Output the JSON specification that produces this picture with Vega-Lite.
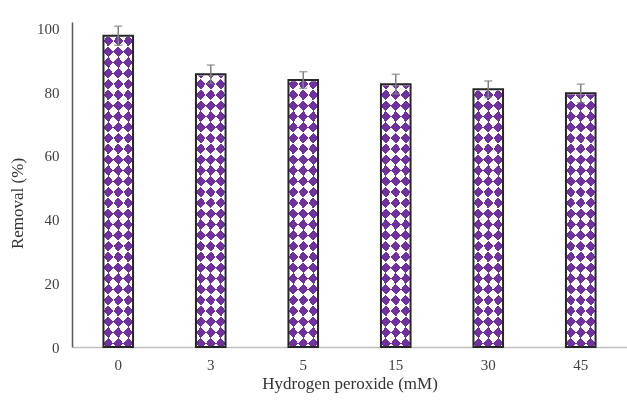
{
  "$schema": "https://vega.github.io/schema/vega-lite/v6.json",
  "width": 555,
  "height": 325,
  "autosize": {"type": "none"},
  "padding": {"left": 72, "top": 22, "right": 0, "bottom": 56},
  "background": "white",
  "config": {
    "view": {"stroke": null},
    "axis": {
      "grid": false,
      "ticks": false,
      "labelFont": "Liberation Serif",
      "labelFontSize": 15,
      "labelColor": "#404040",
      "titleFont": "Liberation Serif",
      "titleFontSize": 17,
      "titleFontWeight": "normal",
      "titleColor": "#333333"
    }
  },
  "data": {
    "values": [
      {"peroxide": "0", "removal": 97.7, "err": 3.0},
      {"peroxide": "3", "removal": 85.6, "err": 2.9},
      {"peroxide": "5", "removal": 83.8, "err": 2.6},
      {"peroxide": "15", "removal": 82.5, "err": 3.1},
      {"peroxide": "30", "removal": 80.9, "err": 2.6},
      {"peroxide": "45", "removal": 79.6, "err": 2.9}
    ]
  },
  "encoding": {
    "x": {
      "field": "peroxide",
      "type": "nominal",
      "sort": null,
      "scale": {"paddingInner": 0.68, "paddingOuter": 0.34, "round": false},
      "axis": {
        "title": "Hydrogen peroxide  (mM)",
        "labelAngle": 0,
        "labelPadding": 10,
        "titlePadding": 3,
        "domainColor": "#BFBFBF",
        "domainWidth": 1.5
      }
    }
  },
  "layer": [
    {
      "mark": {
        "type": "bar",
        "fill": {
          "gradient": "linear", "x1": 0, "y1": 0, "x2": 0.107, "y2": 1.0878,
          "stops": [{"offset":0,"color":"#fff"},
{"offset":0.022088,"color":"#fff"},{"offset":0.022088,"color":"#000"},
{"offset":0.052345,"color":"#000"},{"offset":0.052345,"color":"#fff"},
{"offset":0.082602,"color":"#fff"},{"offset":0.082602,"color":"#000"},
{"offset":0.112859,"color":"#000"},{"offset":0.112859,"color":"#fff"},
{"offset":0.143116,"color":"#fff"},{"offset":0.143116,"color":"#000"},
{"offset":0.173373,"color":"#000"},{"offset":0.173373,"color":"#fff"},
{"offset":0.20363,"color":"#fff"},{"offset":0.20363,"color":"#000"},
{"offset":0.233887,"color":"#000"},{"offset":0.233887,"color":"#fff"},
{"offset":0.264144,"color":"#fff"},{"offset":0.264144,"color":"#000"},
{"offset":0.294401,"color":"#000"},{"offset":0.294401,"color":"#fff"},
{"offset":0.324658,"color":"#fff"},{"offset":0.324658,"color":"#000"},
{"offset":0.354915,"color":"#000"},{"offset":0.354915,"color":"#fff"},
{"offset":0.385172,"color":"#fff"},{"offset":0.385172,"color":"#000"},
{"offset":0.415429,"color":"#000"},{"offset":0.415429,"color":"#fff"},
{"offset":0.445686,"color":"#fff"},{"offset":0.445686,"color":"#000"},
{"offset":0.475943,"color":"#000"},{"offset":0.475943,"color":"#fff"},
{"offset":0.5062,"color":"#fff"},{"offset":0.5062,"color":"#000"},
{"offset":0.536457,"color":"#000"},{"offset":0.536457,"color":"#fff"},
{"offset":0.566714,"color":"#fff"},{"offset":0.566714,"color":"#000"},
{"offset":0.596971,"color":"#000"},{"offset":0.596971,"color":"#fff"},
{"offset":0.627228,"color":"#fff"},{"offset":0.627228,"color":"#000"},
{"offset":0.657485,"color":"#000"},{"offset":0.657485,"color":"#fff"},
{"offset":0.687742,"color":"#fff"},{"offset":0.687742,"color":"#000"},
{"offset":0.717999,"color":"#000"},{"offset":0.717999,"color":"#fff"},
{"offset":0.748256,"color":"#fff"},{"offset":0.748256,"color":"#000"},
{"offset":0.778513,"color":"#000"},{"offset":0.778513,"color":"#fff"},
{"offset":0.80877,"color":"#fff"},{"offset":0.80877,"color":"#000"},
{"offset":0.839027,"color":"#000"},{"offset":0.839027,"color":"#fff"},
{"offset":0.869284,"color":"#fff"},{"offset":0.869284,"color":"#000"},
{"offset":0.899541,"color":"#000"},{"offset":0.899541,"color":"#fff"},
{"offset":0.929798,"color":"#fff"},{"offset":0.929798,"color":"#000"},
{"offset":0.960055,"color":"#000"},{"offset":0.960055,"color":"#fff"},
{"offset":0.990312,"color":"#fff"},{"offset":0.990312,"color":"#000"},
{"offset":1,"color":"#000"}]
        }
      },
      "encoding": {
        "y": {"datum": 102, "type": "quantitative", "title": "Removal (%)", "scale": {"domain": [0, 102], "nice": false}},
        "y2": {"datum": 0}
      }
    },
    {
      "mark": {
        "type": "bar",
        "blend": "difference",
        "fill": {
          "gradient": "linear", "x1": 0, "y1": 1, "x2": 0.107, "y2": -0.0878,
          "stops": [{"offset":0,"color":"#000"},
{"offset":0.009682,"color":"#000"},{"offset":0.009682,"color":"#fff"},
{"offset":0.039939,"color":"#fff"},{"offset":0.039939,"color":"#000"},
{"offset":0.070196,"color":"#000"},{"offset":0.070196,"color":"#fff"},
{"offset":0.100453,"color":"#fff"},{"offset":0.100453,"color":"#000"},
{"offset":0.13071,"color":"#000"},{"offset":0.13071,"color":"#fff"},
{"offset":0.160967,"color":"#fff"},{"offset":0.160967,"color":"#000"},
{"offset":0.191224,"color":"#000"},{"offset":0.191224,"color":"#fff"},
{"offset":0.221481,"color":"#fff"},{"offset":0.221481,"color":"#000"},
{"offset":0.251738,"color":"#000"},{"offset":0.251738,"color":"#fff"},
{"offset":0.281995,"color":"#fff"},{"offset":0.281995,"color":"#000"},
{"offset":0.312252,"color":"#000"},{"offset":0.312252,"color":"#fff"},
{"offset":0.342509,"color":"#fff"},{"offset":0.342509,"color":"#000"},
{"offset":0.372766,"color":"#000"},{"offset":0.372766,"color":"#fff"},
{"offset":0.403023,"color":"#fff"},{"offset":0.403023,"color":"#000"},
{"offset":0.43328,"color":"#000"},{"offset":0.43328,"color":"#fff"},
{"offset":0.463537,"color":"#fff"},{"offset":0.463537,"color":"#000"},
{"offset":0.493794,"color":"#000"},{"offset":0.493794,"color":"#fff"},
{"offset":0.524051,"color":"#fff"},{"offset":0.524051,"color":"#000"},
{"offset":0.554308,"color":"#000"},{"offset":0.554308,"color":"#fff"},
{"offset":0.584565,"color":"#fff"},{"offset":0.584565,"color":"#000"},
{"offset":0.614822,"color":"#000"},{"offset":0.614822,"color":"#fff"},
{"offset":0.645079,"color":"#fff"},{"offset":0.645079,"color":"#000"},
{"offset":0.675336,"color":"#000"},{"offset":0.675336,"color":"#fff"},
{"offset":0.705593,"color":"#fff"},{"offset":0.705593,"color":"#000"},
{"offset":0.73585,"color":"#000"},{"offset":0.73585,"color":"#fff"},
{"offset":0.766107,"color":"#fff"},{"offset":0.766107,"color":"#000"},
{"offset":0.796364,"color":"#000"},{"offset":0.796364,"color":"#fff"},
{"offset":0.826621,"color":"#fff"},{"offset":0.826621,"color":"#000"},
{"offset":0.856878,"color":"#000"},{"offset":0.856878,"color":"#fff"},
{"offset":0.887135,"color":"#fff"},{"offset":0.887135,"color":"#000"},
{"offset":0.917392,"color":"#000"},{"offset":0.917392,"color":"#fff"},
{"offset":0.947649,"color":"#fff"},{"offset":0.947649,"color":"#000"},
{"offset":0.977906,"color":"#000"},{"offset":0.977906,"color":"#fff"},
{"offset":1,"color":"#fff"}]
        }
      },
      "encoding": {
        "y": {"datum": 102, "type": "quantitative", "title": "Removal (%)"},
        "y2": {"datum": 0}
      }
    },
    {
      "mark": {"type": "bar", "blend": "lighten", "fill": "#7030A0"},
      "encoding": {
        "y": {"datum": 102, "type": "quantitative", "title": "Removal (%)"},
        "y2": {"datum": 0}
      }
    },
    {
      "mark": {"type": "bar", "fill": "white", "stroke": "white", "strokeWidth": 2.5},
      "encoding": {
        "y": {"field": "removal", "type": "quantitative", "title": "Removal (%)"},
        "y2": {"datum": 102}
      }
    },
    {
      "mark": {"type": "bar", "fill": "transparent", "stroke": "#262626", "strokeWidth": 2},
      "encoding": {
        "y": {
          "field": "removal",
          "type": "quantitative",
          "title": "Removal (%)",
          "scale": {"domain": [0, 102], "nice": false},
          "axis": {
            "values": [0, 20, 40, 60, 80, 100],
            "labelPadding": 13,
            "domainColor": "#595959",
            "domainWidth": 1.5,
            "titleX": -55,
            "titleY": 181,
            "titleAlign": "center",
            "titleBaseline": "middle"
          }
        }
      }
    },
    {
      "mark": {"type": "errorbar", "color": "#808080", "thickness": 1.5, "ticks": {"size": 8}},
      "encoding": {
        "y": {"field": "removal", "type": "quantitative", "title": "Removal (%)"},
        "yError": {"field": "err"}
      }
    }
  ]
}
